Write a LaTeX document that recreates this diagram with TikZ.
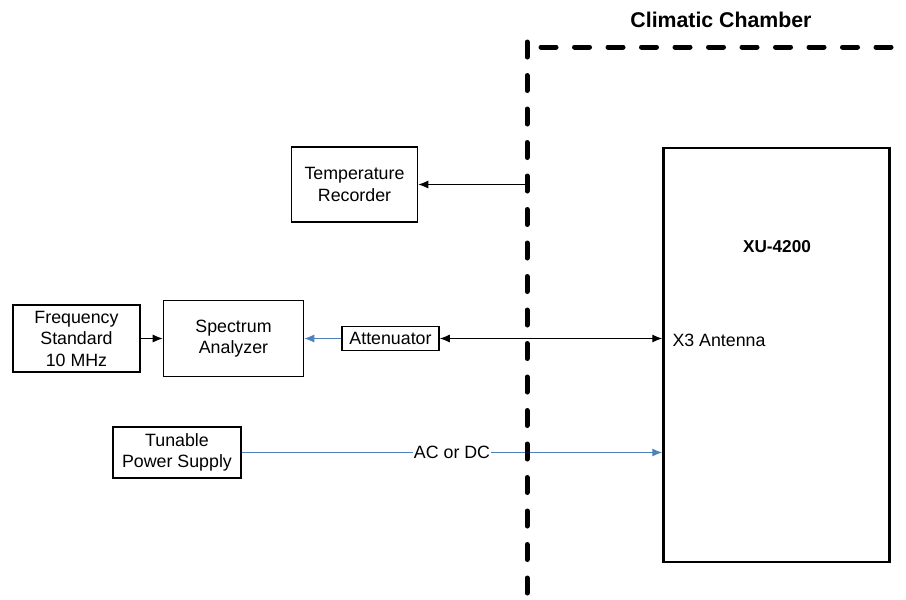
\documentclass[tikz,border=0pt]{standalone}
\usepackage{fontspec}
\setmainfont{Liberation Sans}
\usepackage{xcolor}
\usetikzlibrary{arrows.meta}
\definecolor{linkblue}{RGB}{79,129,189}
\tikzstyle{unit} = [rectangle, draw, line width=1.6pt, fill=white, align=center, inner sep=0pt, font=\fontsize{17.8}{21.5}\selectfont]
\tikzstyle{invis} = [draw=none, font=\fontsize{17.8}{21.5}\selectfont]
\tikzstyle{wall} = [draw, -, line width=5pt, line cap=round, dash pattern=on 15pt off 18.5pt]

\begin{document}
\begin{tikzpicture}[x=1pt,y=-1pt,->,>={Latex[length=10pt,width=8pt]},line width=1pt,node distance=157pt]
  \useasboundingbox (0,0) rectangle (906,600);
  \node[unit, minimum width=127pt, minimum height=67pt] (freq) at (76.5,338.5) {Frequency\\Standard\\10 MHz};
  \node[unit, minimum width=140pt, minimum height=76pt] (spec) [right of=freq] {Spectrum\\Analyzer};
  \node[unit, minimum width=97pt, minimum height=24pt] (att) [right of=spec] {Attenuator};
  \node[unit, minimum width=126pt, minimum height=75pt] (rec) at (354.5,184.5) {Temperature\\Recorder};
  \node[unit, minimum width=128pt, minimum height=51pt] (ps) at (177,452.5) {Tunable\\Power Supply};
  \node[unit, line width=2.5pt, minimum width=226pt, minimum height=414pt] (xu) at (776.5,355) {};
  \node[invis, font=\bfseries\fontsize{17.2}{20}\selectfont] (xulabel) at (777,247) {XU-4200};
  \node[invis, anchor=west, inner sep=0pt] (ant) at (672,340) {X3 Antenna};
  \node[invis, font=\bfseries\fontsize{21.3}{25}\selectfont] (title) at (721,20) {Climatic Chamber};
  \coordinate (probe) at (527,184.5);

  \path (probe) edge node {} (rec);
  \path (freq) edge node {} (spec);
  \path (att) edge[linkblue] node {} (spec);
  \path (att) edge[<->] node {} (att -| xu.west);
  \path (ps) edge[linkblue] node[fill=white, text=black, inner sep=1pt, font=\fontsize{17.8}{21.5}\selectfont] {AC or DC} (ps -| xu.west);

  \draw[wall] (527,42) -- (527,600);
  \draw[wall] (541,47) -- (906,47);
\end{tikzpicture}
\end{document}
